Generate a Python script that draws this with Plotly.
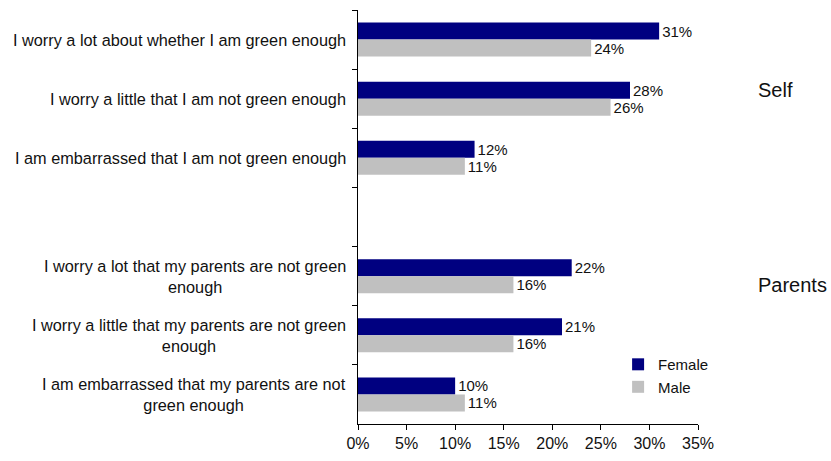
import plotly.graph_objects as go

# Survey statements (blank entry separates the two groups)
categories = [
    "I worry a lot about whether I am green enough",
    "I worry a little that I am not green enough",
    "I am embarrassed that I am not green enough",
    " ",
    "I worry a lot that my parents are not green<br>enough",
    "I worry a little that my parents are not green<br>enough",
    "I am embarrassed that my parents are not<br>green enough",
]
female = [31, 28, 12, None, 22, 21, 10]
male = [24, 26, 11, None, 16, 16, 11]

group_labels = ["Self", "Parents"]
group_label_y = [0.807, 0.336]

x_ticks = [0, 5, 10, 15, 20, 25, 30, 35]
x_tick_labels = ["0%", "5%", "10%", "15%", "20%", "25%", "30%", "35%"]

FONT = "Arial, Liberation Sans, sans-serif"


def pct_labels(values):
    return ["" if v is None else f"{v}%" for v in values]


fig = go.Figure()
fig.add_trace(go.Bar(
    name="Female", y=categories, x=female, orientation="h",
    marker=dict(color="#000080", line=dict(width=0)),
    text=pct_labels(female), texttemplate="%{text}", textposition="outside",
    textfont=dict(size=15, color="#111111", family=FONT),
    cliponaxis=False,
))
fig.add_trace(go.Bar(
    name="Male", y=categories, x=male, orientation="h",
    marker=dict(color="#C0C0C0", line=dict(width=0)),
    text=pct_labels(male), texttemplate="%{text}", textposition="outside",
    textfont=dict(size=15, color="#111111", family=FONT),
    cliponaxis=False,
))

# Category labels, centred line-by-line and right-aligned to the axis
for i, lab in enumerate(categories):
    if lab.strip():
        fig.add_annotation(
            x=0, xref="paper", y=i, yref="y", text=lab,
            xanchor="right", yanchor="middle", align="center",
            xshift=-10, showarrow=False,
            font=dict(size=16.3, color="#111111", family=FONT),
        )

for lab, yy in zip(group_labels, group_label_y):
    fig.add_annotation(
        x=1.172, xref="paper", y=yy, yref="paper", text=lab,
        xanchor="left", yanchor="middle", showarrow=False,
        font=dict(size=20, color="#111111", family=FONT),
    )

fig.update_layout(
    width=831, height=461,
    margin=dict(l=358, r=133, t=10, b=37),
    paper_bgcolor="white", plot_bgcolor="white",
    barmode="group", bargap=0.425, bargroupgap=0,
    font=dict(family=FONT, size=16, color="#111111"),
    showlegend=True,
    legend=dict(
        x=0.765, y=0.117, xanchor="left", yanchor="middle",
        traceorder="normal", font=dict(size=15, family=FONT),
        bgcolor="rgba(0,0,0,0)", itemwidth=30,
        tracegroupgap=0,
    ),
    xaxis=dict(
        range=[0, 35], tickmode="array", tickvals=x_ticks,
        ticktext=x_tick_labels,
        showgrid=False, zeroline=False, showline=True,
        linecolor="black", linewidth=1, ticks="outside",
        ticklen=5, tickcolor="black",
        tickfont=dict(size=16, family=FONT),
    ),
    yaxis=dict(
        type="category", categoryorder="array", categoryarray=categories,
        range=[6.5, -0.5], showticklabels=False, showgrid=False,
        showline=True, linecolor="black", linewidth=1,
        ticks="outside", tickson="boundaries", ticklen=5,
        tickcolor="black",
    ),
)

fig.write_html("out.html")
